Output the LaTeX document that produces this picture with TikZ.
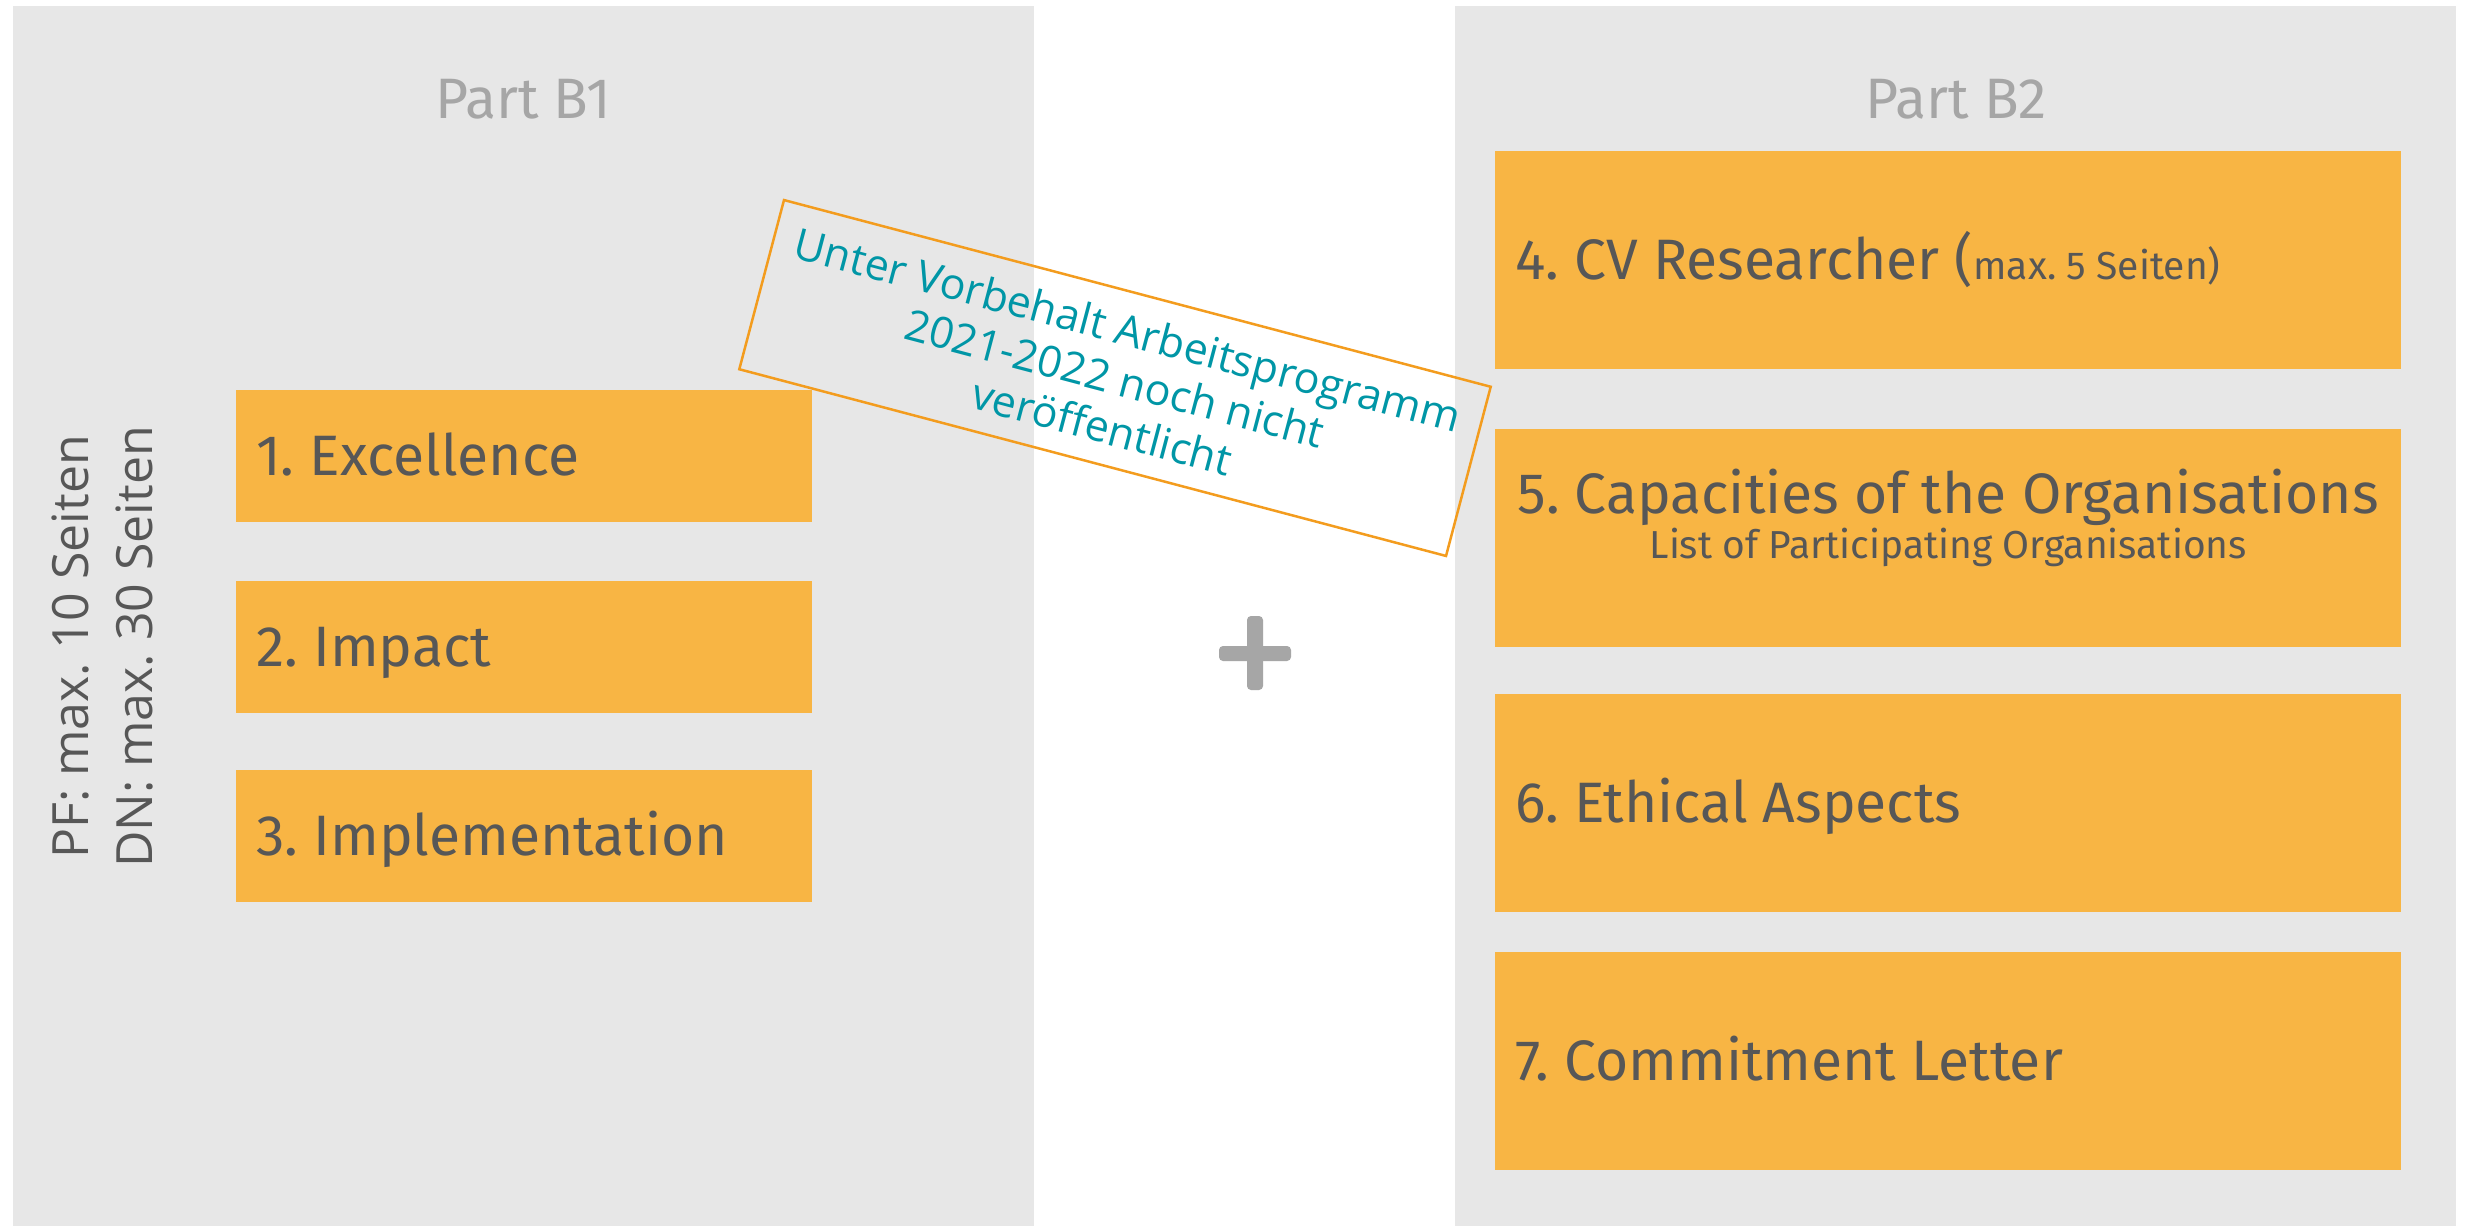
\documentclass[tikz,border=0pt]{standalone}
\usepackage{fontspec}
\setmainfont{Fira Sans}
\newfontfamily\opensans{Open Sans}
\definecolor{panelgray}{HTML}{E7E7E7}
\definecolor{boxor}{HTML}{F8B544}
\definecolor{txt}{HTML}{575757}
\definecolor{titlegray}{HTML}{A6A6A6}
\definecolor{teal}{HTML}{0096A6}
\definecolor{noteor}{HTML}{F39C1E}
\frenchspacing
\begin{document}
\begin{tikzpicture}[x=1pt,y=-1pt,
  panel/.style={fill=panelgray, draw=none, anchor=north west, inner sep=0pt},
  title/.style={text=titlegray, font=\fontsize{57}{64}\selectfont, anchor=base, inner sep=0pt},
  box/.style={fill=boxor, draw=none, text=txt, anchor=north west, inner xsep=20pt, inner ysep=0pt,
    align=flush left, font=\fontsize{57}{62}\selectfont, text height=39pt, text depth=0pt},
  lbox/.style={box, minimum width=576pt, minimum height=132pt, text width=536pt},
  rbox/.style={box, minimum width=906pt, minimum height=218pt, text width=866pt},
  note/.style={draw=noteor, line width=2.5pt, text=teal, align=center, inner sep=0pt,
    font=\opensans\fontsize{43}{50}\selectfont},
  side/.style={text=txt, align=center, inner sep=0pt, font=\opensans\fontsize{50}{64}\selectfont}
]
\useasboundingbox[fill=white] (0,0) rectangle (2467,1226);
% panels
\node[panel, minimum width=1021.4pt, minimum height=1220pt] (p1) at (12.6,6) {};
\node[panel, minimum width=1001pt, minimum height=1220pt] (p2) at (1455,6) {};
% titles
\node[title] (t1) at (523,118) {Part B1};
\node[title] (t2) at (1956,118) {Part B2};
% left boxes
\node[lbox] (b1) at (236,390) {1. Excellence};
\node[lbox] (b2) at (236,580.5) {2. Impact};
\node[lbox] (b3) at (236,769.5) {3. Implementation};
% right boxes
\node[rbox] (b4) at (1495,151) {4. CV Researcher ({\fontsize{39}{44}\selectfont max. 5 Seiten)}};
\node[rbox, align=flush center, inner xsep=4pt, text width=898pt, text height=39pt, text depth=89pt] (b5) at (1495,429)
  {5. Capacities of the Organisations\\[-17pt]{\fontsize{39}{44}\selectfont List of Participating Organisations}};
\node[rbox] (b6) at (1495,694) {6. Ethical Aspects};
\node[rbox] (b7) at (1495,952) {7. Commitment Letter};
% side label
\node[side, rotate=90] (side) at (103,647) {PF: max. 10 Seiten\\DN: max. 30 Seiten};
% plus sign
\fill[titlegray, rounded corners=4pt] (1219,646) rectangle (1291,661);
\fill[titlegray, rounded corners=4pt] (1247,616) rectangle (1263,690);
% tilted note
\node[note, rotate=-14.8, minimum width=731pt, minimum height=175pt] (note) at (1115,378)
  {Unter Vorbehalt Arbeitsprogramm\\2021-2022 noch nicht\\veröffentlicht};
\end{tikzpicture}
\end{document}
